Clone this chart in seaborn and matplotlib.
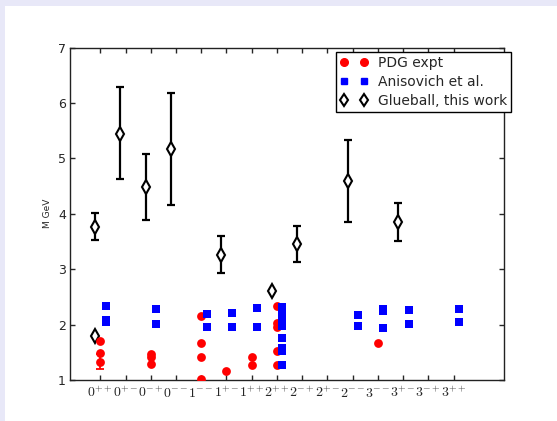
import numpy as np
import pandas as pd
import matplotlib
matplotlib.use("Agg")
import matplotlib.pyplot as plt
import seaborn as sns
from matplotlib.patches import Rectangle
from matplotlib.lines import Line2D

# ---------------- data ----------------
jpc_labels = [r"$0^{++}$", r"$0^{+-}$", r"$0^{-+}$", r"$0^{--}$", r"$1^{--}$",
              r"$1^{+-}$", r"$1^{++}$", r"$2^{++}$", r"$2^{-+}$", r"$2^{+-}$",
              r"$2^{--}$", r"$3^{--}$", r"$3^{+-}$", r"$3^{-+}$", r"$3^{++}$"]

pdg_idx = [0, 0, 0, 2, 2, 2, 4, 4, 4, 4, 5, 6, 6, 7, 7, 7, 7, 7, 11]
pdg_mass = [1.71, 1.48, 1.33, 1.47, 1.41, 1.29, 2.16, 1.66, 1.415, 1.02, 1.16,
            1.41, 1.265, 2.33, 2.025, 1.965, 1.53, 1.27, 1.66]
pdg_err_idx = [0]
pdg_err_mass = [1.33]
pdg_err_lo = [0.14]
pdg_err_hi = [0.14]

ani_idx = [0, 0, 0, 2, 2, 4, 4, 5, 5, 6, 6,
           7, 7, 7, 7, 7, 7, 7, 7, 7, 7,
           10, 10, 11, 11, 11, 12, 12, 14, 14]
ani_mass = [2.33, 2.085, 2.04, 2.28, 2.007, 2.19, 1.95, 2.21, 1.95, 2.30, 1.965,
            2.31, 2.25, 2.19, 2.12, 2.04, 1.97, 1.75, 1.57, 1.52, 1.27,
            2.18, 1.97, 2.28, 2.25, 1.93, 2.27, 2.01, 2.29, 2.04]

glue_idx = [0, 0, 1, 2, 3, 5, 7, 8, 10, 12]
glue_mass = [1.80, 3.754, 5.443, 4.49, 5.165, 3.26, 2.61, 3.46, 4.586, 3.845]
glue_lo = [1.80, 3.52, 4.622, 3.893, 4.165, 2.93, 2.61, 3.13, 3.85, 3.50]
glue_hi = [1.80, 4.007, 6.28, 5.08, 6.177, 3.604, 2.61, 3.77, 5.33, 4.20]

# ---------------- style ----------------
sns.set_style("ticks")
plt.rcParams.update({
    "font.family": ["DejaVu Sans"],
    "mathtext.fontset": "cm",
    "xtick.direction": "in",
    "ytick.direction": "in",
    "xtick.top": True,
    "ytick.right": True,
    "axes.edgecolor": "#222222",
    "axes.linewidth": 1.0,
})

fig = plt.figure(figsize=(5.57, 4.21), dpi=100)
fig.patch.set_facecolor("#e8e8f8")
fig.patches.append(Rectangle((5 / 557, 0), 1, 1 - 6 / 421, transform=fig.transFigure,
                             facecolor="white", edgecolor="none", zorder=-10))
ax = fig.add_axes([70 / 557, 1 - 380 / 421, 434 / 557, 332.5 / 421])

pdg_df = pd.DataFrame({"x": pdg_idx, "M": pdg_mass})
ani_df = pd.DataFrame({"x": np.array(ani_idx) + 0.22, "M": ani_mass})
glue_x = np.array(glue_idx) - 0.2
glue_m = np.array(glue_mass)
yerr = np.vstack([glue_m - np.array(glue_lo), np.array(glue_hi) - glue_m])

# glueball error bars
ax.errorbar(glue_x, glue_m, yerr=yerr, fmt="none", ecolor="black",
            elinewidth=1.6, capsize=3, capthick=1.6, zorder=2)
ax.plot(glue_x, glue_m, linestyle="none", marker="d", markersize=7.5,
        markerfacecolor="white", markeredgecolor="black", markeredgewidth=1.5, zorder=3)

# PDG error bar
ax.errorbar(pdg_err_idx, pdg_err_mass, yerr=[pdg_err_lo, pdg_err_hi], fmt="none",
            ecolor="red", elinewidth=1.3, capsize=3, capthick=1.3, zorder=3)

sns.scatterplot(data=pdg_df, x="x", y="M", ax=ax, color="red", marker="o",
                s=40, linewidth=0, zorder=4, legend=False)
sns.scatterplot(data=ani_df, x="x", y="M", ax=ax, color="blue", marker="s",
                s=34, linewidth=0, zorder=5, legend=False)

ax.set_xlim(-1.2, 16.0)
ax.set_ylim(1, 7)
ax.set_xticks(range(len(jpc_labels)))
ax.set_xticklabels(jpc_labels, fontsize=10)
ax.set_yticks(range(1, 8))
ax.tick_params(axis="y", labelsize=9, length=3.5, width=1, pad=3)
ax.tick_params(axis="x", length=3.5, width=1, pad=4)
ax.set_xlabel("")
ax.set_ylabel("M GeV", fontsize=6.5, labelpad=4)

handles = [
    Line2D([], [], linestyle="none", marker="o", color="red", markersize=5.5),
    Line2D([], [], linestyle="none", marker="s", color="blue", markersize=5),
    Line2D([], [], linestyle="none", marker="d", markersize=6.5, markerfacecolor="white",
           markeredgecolor="black", markeredgewidth=1.5),
]
leg = ax.legend(handles, ["PDG expt", "Anisovich et al.", "Glueball, this work"],
                loc="upper right", bbox_to_anchor=(1.016, 0.987), borderaxespad=0,
                numpoints=2, fontsize=10, frameon=True, fancybox=False,
                handlelength=2.0, handletextpad=0.7, borderpad=0.3, labelspacing=0.35)
leg.get_frame().set_edgecolor("black")
leg.get_frame().set_linewidth(1.0)
leg.get_frame().set_alpha(1)

fig.savefig("out.png", dpi=100)
